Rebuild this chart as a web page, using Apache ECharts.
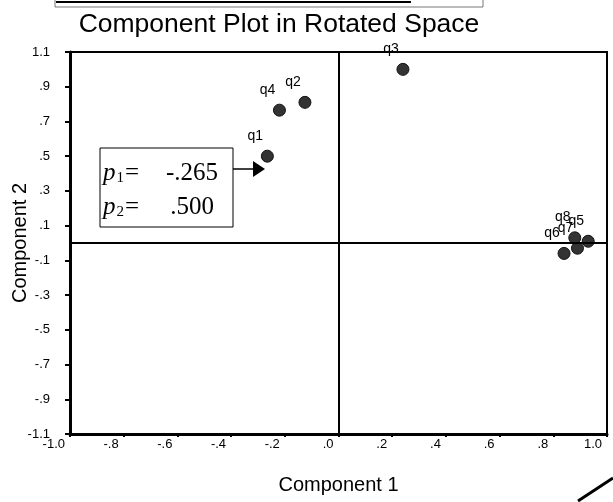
<!DOCTYPE html>
<html>
<head>
<meta charset="utf-8">
<script src="https://cdn.jsdelivr.net/npm/echarts@6/dist/echarts.min.js"></script>
<style>
  html, body { margin: 0; padding: 0; background: #fff; }
  #main { width: 613px; height: 502px; }
</style>
</head>
<body>
<div id="main"></div>
<script>
  // component loadings
  var names = ['q1', 'q2', 'q3', 'q4', 'q5', 'q6', 'q7', 'q8'];
  var comp1 = [-0.265, -0.125, 0.24, -0.22, 0.93, 0.84, 0.89, 0.88];
  var comp2 = [0.500, 0.81, 1.00, 0.765, 0.01, -0.06, -0.03, 0.03];

  var xTicks = [-1.0, -0.8, -0.6, -0.4, -0.2, 0, 0.2, 0.4, 0.6, 0.8, 1.0];
  var yTicks = [-1.1, -0.9, -0.7, -0.5, -0.3, -0.1, 0.1, 0.3, 0.5, 0.7, 0.9, 1.1];

  // SPSS style: no leading zero
  function spss(v) {
    var s = (Math.round(v * 10) / 10).toFixed(1);
    if (Math.abs(v) >= 0.99) return s;
    return s.replace('0.', '.');
  }

  var pts = names.map(function (n, i) {
    return { name: n, value: [comp1[i], comp2[i]] };
  });

  var font = 'Liberation Sans, Arial, sans-serif';
  var serif = 'Liberation Serif, Times New Roman, serif';
  var serifTxt = { fontFamily: serif, fontSize: 25, fill: '#000' };

  var chart = echarts.init(document.getElementById('main'));
  chart.setOption({
    animation: false,
    title: {
      text: 'Component Plot in Rotated Space',
      left: 274,
      textAlign: 'center',
      top: 6,
      textStyle: { fontFamily: font, fontSize: 26.5, fontWeight: 'normal', color: '#000' }
    },
    grid: {
      left: 70, right: 6, top: 52, bottom: 68,
      outerBoundsMode: 'none', containLabel: false,
      show: true, borderColor: '#000', borderWidth: 2, backgroundColor: 'transparent'
    },
    xAxis: {
      type: 'value', min: -1, max: 1,
      name: 'Component 1', nameLocation: 'middle', nameGap: 41, nameMoveOverlap: false,
      nameTextStyle: { fontFamily: font, fontSize: 20, color: '#000' },
      axisLine: { onZero: false, lineStyle: { color: '#000', width: 3 } },
      axisTick: { show: true, length: 3, lineStyle: { color: '#000', width: 2 }, customValues: xTicks },
      axisLabel: {
        customValues: xTicks, formatter: spss, align: 'right', margin: 4,
        padding: [0, 5, 0, 0],
        fontFamily: font, fontSize: 13, color: '#000'
      },
      splitLine: { show: false }
    },
    yAxis: {
      type: 'value', min: -1.1, max: 1.1,
      name: 'Component 2', nameLocation: 'middle', nameGap: 40, nameMoveOverlap: false,
      nameTextStyle: { fontFamily: font, fontSize: 20, color: '#000' },
      axisLine: { onZero: false, lineStyle: { color: '#000', width: 3 } },
      axisTick: { show: true, length: 5, lineStyle: { color: '#000', width: 2 }, customValues: yTicks },
      axisLabel: {
        customValues: yTicks, formatter: spss, margin: 20,
        padding: [0, 0, 5, 0],
        fontFamily: font, fontSize: 13, color: '#000'
      },
      splitLine: { show: false }
    },
    series: [{
      type: 'scatter',
      data: pts,
      symbolSize: 12,
      itemStyle: { color: '#333', borderColor: '#111', borderWidth: 1, opacity: 1 },
      label: {
        show: true, position: 'top', distance: 5,
        formatter: '{b}', fontFamily: font, fontSize: 14, color: '#000'
      },
      labelLayout: { dx: -12, dy: -2, hideOverlap: false },
      markLine: {
        silent: true, symbol: 'none', label: { show: false },
        lineStyle: { color: '#000', width: 2, type: 'solid' },
        data: [{ xAxis: 0 }, { yAxis: 0 }]
      }
    }],
    graphic: [
      // bits of the neighbouring output at the page edges
      { type: 'rect', shape: { x: 55, y: -4, width: 428, height: 11 },
        style: { fill: 'none', stroke: '#777', lineWidth: 1 } },
      { type: 'line', shape: { x1: 56, y1: 2, x2: 411, y2: 2 },
        style: { stroke: '#000', lineWidth: 2 } },
      { type: 'line', shape: { x1: 578, y1: 501, x2: 613, y2: 478 },
        style: { stroke: '#000', lineWidth: 3 } },
      // annotation box for q1
      { type: 'rect', shape: { x: 100, y: 148, width: 133, height: 79 },
        style: { fill: '#fff', stroke: '#000', lineWidth: 1 } },
      { type: 'text', x: 103, y: 173,
        style: {
          text: '{p|p}{s|1}{v|=}', verticalAlign: 'middle',
          rich: {
            p: { fontFamily: serif, fontStyle: 'italic', fontSize: 25, fill: '#000' },
            s: { fontFamily: serif, fontSize: 15, fill: '#000', padding: [11, 1, 0, 1] },
            v: serifTxt
          }
        } },
      { type: 'text', x: 218, y: 173,
        style: { text: '-.265', align: 'right', verticalAlign: 'middle',
          fontFamily: serif, fontSize: 25, fill: '#000' } },
      { type: 'text', x: 103, y: 207,
        style: {
          text: '{p|p}{s|2}{v|=}', verticalAlign: 'middle',
          rich: {
            p: { fontFamily: serif, fontStyle: 'italic', fontSize: 25, fill: '#000' },
            s: { fontFamily: serif, fontSize: 15, fill: '#000', padding: [11, 1, 0, 1] },
            v: serifTxt
          }
        } },
      { type: 'text', x: 214, y: 207,
        style: { text: '.500', align: 'right', verticalAlign: 'middle',
          fontFamily: serif, fontSize: 25, fill: '#000' } },
      { type: 'line', shape: { x1: 233, y1: 169, x2: 255, y2: 169 },
        style: { stroke: '#000', lineWidth: 1.5 } },
      { type: 'polygon', shape: { points: [[253, 161], [265, 169], [253, 177]] },
        style: { fill: '#000' } }
    ]
  });
</script>
</body>
</html>
